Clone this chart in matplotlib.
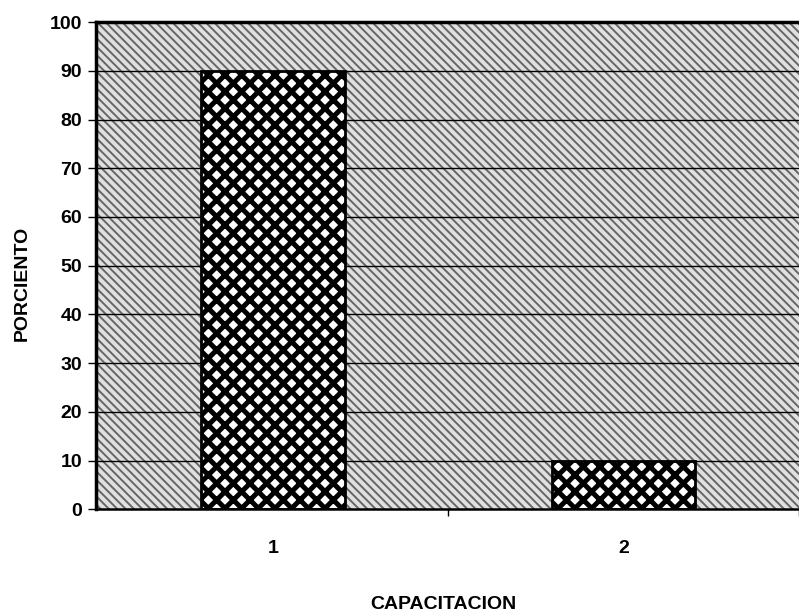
import numpy as np
import matplotlib
matplotlib.use('Agg')
import matplotlib.pyplot as plt
from matplotlib.patches import Rectangle

categorias = ['1', '2']
porciento = [90, 10]
yticks = list(range(0, 101, 10))

plt.rcParams['font.family'] = ['Liberation Sans', 'DejaVu Sans']
plt.rcParams['font.weight'] = 'bold'
plt.rcParams['hatch.linewidth'] = 1.4

fig = plt.figure(figsize=(7.99, 6.15), dpi=100)
ax = fig.add_axes([0.120, 0.172, 0.880, 0.792])

# fondo gris punteado
ax.add_patch(Rectangle((0, 0), 1, 1, transform=ax.transAxes,
                       facecolor='#e0e0e0', edgecolor='#666666',
                       hatch='\\\\\\\\', linewidth=0, zorder=0))

for y in yticks[1:]:
    ax.axhline(y, color='black', linewidth=1.0, zorder=1)

x = np.arange(1, len(categorias) + 1)
# barras: rejilla negra gruesa sobre blanco -> puntos blancos
with plt.rc_context({'hatch.linewidth': 3.6}):
    barras = ax.bar(x, porciento, width=0.41, facecolor='white',
                    edgecolor='black', hatch='xx', linewidth=0, zorder=2)
for b in barras:
    if hasattr(b, 'set_hatch_linewidth'):
        b.set_hatch_linewidth(3.6)
ax.bar(x, porciento, width=0.41, fill=False, edgecolor='black',
       linewidth=2, zorder=3)

ax.set_xlim(0.496, 2.49)
ax.set_ylim(0, 100)
ax.set_yticks(yticks)
ax.set_xticks(x)
ax.set_xticklabels(categorias)
ax.set_xticks([1.5, 2.5], minor=True)
ax.tick_params(axis='x', which='major', length=0, pad=22, labelsize=14)
ax.tick_params(axis='x', which='minor', length=5, width=1, direction='out')
ax.tick_params(axis='y', length=6, width=1, direction='out', labelsize=14, pad=4)

for s in ['top', 'left']:
    ax.spines[s].set_linewidth(2.5)
ax.spines['bottom'].set_linewidth(1.8)
ax.spines['right'].set_visible(False)

ax.set_ylabel('PORCIENTO', fontsize=14, fontweight='bold')
ax.yaxis.set_label_coords(-0.092, 0.464)
ax.set_xlabel('CAPACITACION', fontsize=14, fontweight='bold')
ax.xaxis.set_label_coords(0.494, -0.178)

fig.savefig('out.png', dpi=100)
